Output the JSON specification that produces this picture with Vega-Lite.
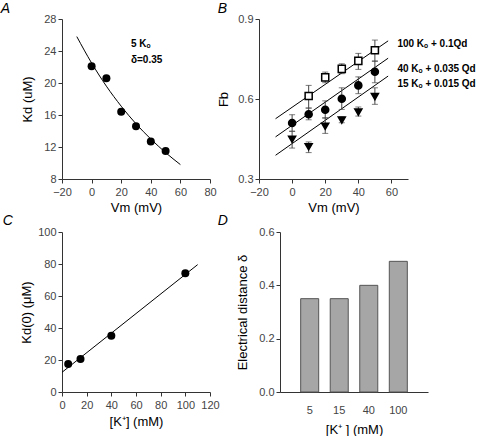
{
  "$schema": "https://vega.github.io/schema/vega-lite/v6.json",
  "padding": {"left": 0, "top": 2, "right": 0, "bottom": 0},
  "background": "white",
  "config": {
    "font": "Liberation Sans",
    "view": {"stroke": null},
    "axis": {"grid": false, "domainColor": "#333", "tickColor": "#333", "labelColor": "#444", "labelFontSize": 11, "titleFontSize": 13, "titleFontWeight": "normal", "titleColor": "#000", "tickSize": 4, "labelPadding": 2, "labelOverlap": false, "labelFlush": false, "tickCount": 20},
    "title": {"fontSize": 14, "fontStyle": "italic", "fontWeight": "normal", "anchor": "start", "frame": "bounds", "color": "#000", "offset": -3}
  },
  "datasets": {
    "curveA": [{"x": -10, "y": 25.8}, {"x": 0, "y": 22.5}, {"x": 10, "y": 19.6}, {"x": 20, "y": 17.1}, {"x": 30, "y": 14.9}, {"x": 40, "y": 13.0}, {"x": 50, "y": 11.3}, {"x": 60, "y": 9.8}],
    "pointsA": [{"x": 0, "y": 22.1}, {"x": 10, "y": 20.6}, {"x": 20, "y": 16.4}, {"x": 30, "y": 14.6}, {"x": 40, "y": 12.7}, {"x": 50, "y": 11.5}],
    "annA": [{"x": 26.6, "y": 24.9, "label": "5 Kₒ"}, {"x": 26.6, "y": 22.9, "label": "δ=0.35"}],
    "linesB": [{"s": "100", "x": -10, "y": 0.526}, {"s": "100", "x": 58, "y": 0.818}, {"s": "40", "x": -10, "y": 0.458}, {"s": "40", "x": 58, "y": 0.753}, {"s": "15", "x": -10, "y": 0.389}, {"s": "15", "x": 58, "y": 0.686}],
    "pointsB": [
      {"s": "100", "x": 10, "y": 0.611, "lo": 0.566, "hi": 0.651},
      {"s": "100", "x": 20, "y": 0.681, "lo": 0.661, "hi": 0.701},
      {"s": "100", "x": 30, "y": 0.713, "lo": 0.695, "hi": 0.732},
      {"s": "100", "x": 40, "y": 0.743, "lo": 0.711, "hi": 0.771},
      {"s": "100", "x": 50, "y": 0.783, "lo": 0.741, "hi": 0.821},
      {"s": "40", "x": 0, "y": 0.510, "lo": 0.479, "hi": 0.541},
      {"s": "40", "x": 10, "y": 0.543, "lo": 0.522, "hi": 0.566},
      {"s": "40", "x": 20, "y": 0.560, "lo": 0.528, "hi": 0.593},
      {"s": "40", "x": 30, "y": 0.601, "lo": 0.561, "hi": 0.642},
      {"s": "40", "x": 40, "y": 0.651, "lo": 0.620, "hi": 0.683},
      {"s": "40", "x": 50, "y": 0.702, "lo": 0.661, "hi": 0.743},
      {"s": "15", "x": 0, "y": 0.449, "lo": 0.416, "hi": 0.479},
      {"s": "15", "x": 10, "y": 0.421, "lo": 0.399, "hi": 0.439},
      {"s": "15", "x": 20, "y": 0.498, "lo": 0.471, "hi": 0.530},
      {"s": "15", "x": 30, "y": 0.521, "lo": 0.511, "hi": 0.533},
      {"s": "15", "x": 40, "y": 0.551, "lo": 0.536, "hi": 0.570},
      {"s": "15", "x": 50, "y": 0.609, "lo": 0.580, "hi": 0.642}
    ],
    "annB": [{"x": 63.6, "y": 0.805, "label": "100 Kₒ + 0.1Qd"}, {"x": 63.6, "y": 0.714, "label": "40 Kₒ + 0.035 Qd"}, {"x": 63.6, "y": 0.657, "label": "15 Kₒ + 0.015 Qd"}],
    "lineC": [{"x": 0, "y": 12.3}, {"x": 110, "y": 79.6}],
    "pointsC": [{"x": 5, "y": 17.5}, {"x": 15, "y": 20.6}, {"x": 40, "y": 35.2}, {"x": 100, "y": 74.2}],
    "barsD": [{"K": "5", "d": 0.35}, {"K": "15", "d": 0.35}, {"K": "40", "d": 0.40}, {"K": "100", "d": 0.49}]
  },
  "spacing": 0,
  "vconcat": [
    {
      "spacing": 0,
      "hconcat": [
        {
          "width": 148, "height": 160,
          "title": {"text": "A", "dx": -21},
          "layer": [
            {"data": {"name": "curveA"}, "mark": {"type": "line", "color": "#000", "strokeWidth": 1, "interpolate": "monotone"},
             "encoding": {
               "x": {"field": "x", "type": "quantitative", "scale": {"domain": [-20, 80]}, "axis": {"values": [-20, 0, 20, 40, 60, 80], "title": "Vm (mV)", "titlePadding": 4, "labelPadding": 3}},
               "y": {"field": "y", "type": "quantitative", "scale": {"domain": [8, 28]}, "axis": {"values": [8, 12, 16, 20, 24, 28], "title": "Kd (uM)", "titlePadding": 9}}}},
            {"data": {"name": "pointsA"}, "mark": {"type": "circle", "size": 64, "color": "#000", "opacity": 1},
             "encoding": {"x": {"field": "x", "type": "quantitative"}, "y": {"field": "y", "type": "quantitative"}}},
            {"data": {"name": "annA"}, "mark": {"type": "text", "align": "left", "baseline": "middle", "fontWeight": "bold", "fontSize": 10, "color": "#000"},
             "encoding": {"x": {"field": "x", "type": "quantitative"}, "y": {"field": "y", "type": "quantitative"}, "text": {"field": "label"}}}
          ]
        },
        {
          "width": 149, "height": 160,
          "title": {"text": "B"},
          "layer": [
            {"data": {"name": "linesB"}, "mark": {"type": "line", "color": "#000", "strokeWidth": 1},
             "encoding": {
               "x": {"field": "x", "type": "quantitative", "scale": {"domain": [-20, 70]}, "axis": {"values": [-20, 0, 20, 40, 60], "title": "Vm (mV)", "titlePadding": 4, "labelPadding": 3}},
               "y": {"field": "y", "type": "quantitative", "scale": {"domain": [0.3, 0.9]}, "axis": {"values": [0.3, 0.6, 0.9], "format": ".1f", "title": "Fb", "titlePadding": 7}},
               "detail": {"field": "s"}}},
            {"data": {"name": "pointsB"}, "mark": {"type": "errorbar", "ticks": {"size": 6, "color": "#444"}, "rule": {"color": "#444"}},
             "encoding": {"x": {"field": "x", "type": "quantitative"}, "y": {"field": "lo", "type": "quantitative", "title": "Fb"}, "y2": {"field": "hi"}}},
            {"data": {"name": "pointsB"}, "mark": {"type": "point", "filled": true, "stroke": "#000", "strokeWidth": 1.5, "opacity": 1, "size": 50},
             "encoding": {"x": {"field": "x", "type": "quantitative"}, "y": {"field": "y", "type": "quantitative"},
               "shape": {"field": "s", "type": "nominal", "scale": {"domain": ["100", "40", "15"], "range": ["square", "circle", "triangle-down"]}, "legend": null},
               "fill": {"field": "s", "type": "nominal", "scale": {"domain": ["100", "40", "15"], "range": ["#fff", "#000", "#000"]}, "legend": null}}},
            {"data": {"name": "annB"}, "mark": {"type": "text", "align": "left", "baseline": "middle", "fontWeight": "bold", "fontSize": 10, "color": "#000"},
             "encoding": {"x": {"field": "x", "type": "quantitative"}, "y": {"field": "y", "type": "quantitative"}, "text": {"field": "label"}}}
          ]
        }
      ]
    },
    {
      "spacing": -3,
      "hconcat": [
        {
          "width": 148, "height": 160,
          "title": {"text": "C", "offset": -2, "dx": -18},
          "layer": [
            {"data": {"name": "lineC"}, "mark": {"type": "line", "color": "#000", "strokeWidth": 1},
             "encoding": {
               "x": {"field": "x", "type": "quantitative", "scale": {"domain": [0, 120]}, "axis": {"values": [0, 20, 40, 60, 80, 100, 120], "title": "[K⁺] (mM)", "titlePadding": 5, "labelPadding": 3}},
               "y": {"field": "y", "type": "quantitative", "scale": {"domain": [0, 100]}, "axis": {"values": [0, 20, 40, 60, 80, 100], "title": "Kd(0) (μM)", "titlePadding": 4}}}},
            {"data": {"name": "pointsC"}, "mark": {"type": "circle", "size": 64, "color": "#000", "opacity": 1},
             "encoding": {"x": {"field": "x", "type": "quantitative"}, "y": {"field": "y", "type": "quantitative"}}}
          ]
        },
        {
          "width": 148, "height": 160,
          "title": {"text": "D", "offset": -2, "dx": -19},
          "data": {"name": "barsD"},
          "mark": {"type": "bar", "fill": "#a6a6a6", "stroke": "#555", "strokeWidth": 1},
          "encoding": {
            "x": {"field": "K", "type": "ordinal", "sort": null, "scale": {"paddingInner": 0.39, "paddingOuter": 0.7}, "axis": {"title": "[K⁺ ] (mM)", "labelAngle": 0, "ticks": false, "labelPadding": 12, "titlePadding": 8}},
            "y": {"field": "d", "type": "quantitative", "scale": {"domain": [0, 0.6]}, "axis": {"values": [0, 0.2, 0.4, 0.6], "format": ".1f", "title": "Electrical distance δ", "titlePadding": 9}}
          }
        }
      ]
    }
  ]
}
